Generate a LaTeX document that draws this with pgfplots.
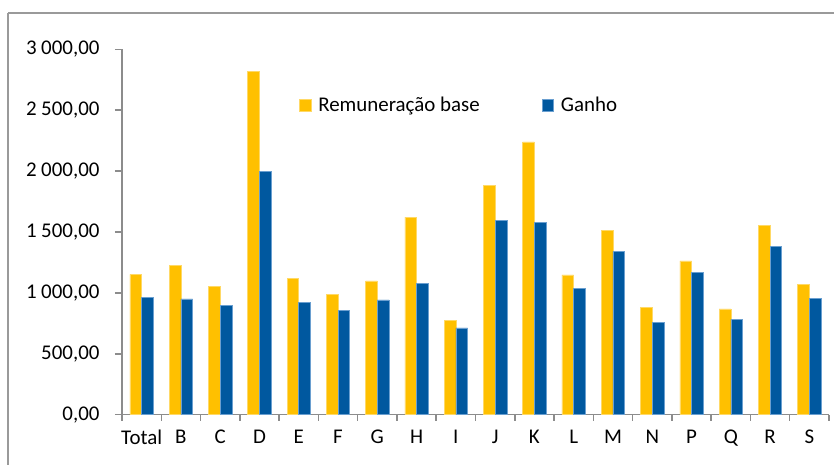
\documentclass[border=0pt]{standalone}
\usepackage{fontspec}
\setmainfont{Carlito}
\usepackage{pgfplots}
\pgfplotsset{compat=1.18}
\definecolor{cyel}{HTML}{FFC000}
\definecolor{cyeledge}{HTML}{FFD966}
\definecolor{cblue}{HTML}{00589F}
\definecolor{cblueedge}{HTML}{6A9FD0}
\definecolor{caxis}{HTML}{8C8C8C}
\definecolor{cborder}{HTML}{9A9A9A}
\begin{document}
\begin{tikzpicture}
\path[use as bounding box] (0,0) rectangle (834bp,465bp);
\draw[cborder, line width=1.8bp] (8bp,452bp) -- (850bp,452bp);
\draw[cborder, line width=1.8bp] (8bp,452bp) -- (8bp,-20bp);
\begin{axis}[
  at={(122bp,50.3bp)}, anchor=south west,
  scale only axis,
  width=707bp, height=365.4bp,
  xmin=-0.5, xmax=17.5,
  ymin=0, ymax=3000,
  axis x line*=bottom, axis y line*=left,
  axis line style={caxis, line width=1.5bp, -},
  ybar=0pt, bar width=11.7bp,
  xtick={0,...,17},
  xticklabels={Total,B,C,D,E,F,G,H,I,J,K,L,M,N,P,Q,R,S},
  major x tick style={draw=none},
  minor xtick={-0.5,0.5,...,17.5},
  minor tick length=6bp,
  tick align=outside,
  ytick={0,500,...,3000},
  major tick length=7bp,
  tick style={caxis, line width=1.5bp},
  ytick style={caxis, line width=1.5bp},
  minor x tick style={caxis, line width=1.5bp},
  /pgf/number format/assume math mode=true,
  yticklabel={\pgfmathprintnumber[fixed, fixed zerofill, precision=2, use comma, 1000 sep={\hspace{4.5bp}}]{\tick}},
  scaled y ticks=false,
  ticklabel style={font=\fontsize{21}{24}\selectfont, text=black},
  yticklabel style={xshift=-12bp},
  xticklabel style={yshift=-5bp},
  legend columns=2,
  legend style={at={(0.2504,0.8476)}, anchor=west, draw=none, fill=none,
    font=\fontsize{21}{24}\selectfont, inner sep=0pt,
    /tikz/every odd column/.append style={column sep=5bp},
    /tikz/every even column/.append style={column sep=60bp}},
  legend cell align=left,
  legend image code/.code={\fill[#1] (0bp,-6bp) rectangle (11.5bp,5.5bp);},
  clip=false,
]
\addplot[fill=cyel, draw=cyeledge, line width=0.6bp] coordinates {
(0,1152) (1,1226) (2,1054) (3,2817) (4,1122) (5,985) (6,1098) (7,1623) (8,777)
(9,1883) (10,2239) (11,1147) (12,1516) (13,879) (14,1262) (15,868) (16,1557) (17,1073)};
\addlegendentry{Remuneração base}
\addplot[fill=cblue, draw=cblueedge, line width=0.6bp] coordinates {
(0,966) (1,950) (2,900) (3,1998) (4,925) (5,857) (6,942) (7,1081) (8,712)
(9,1593) (10,1582) (11,1040) (12,1341) (13,755) (14,1171) (15,783) (16,1385) (17,955)};
\addlegendentry{Ganho}
\end{axis}
\end{tikzpicture}
\end{document}
